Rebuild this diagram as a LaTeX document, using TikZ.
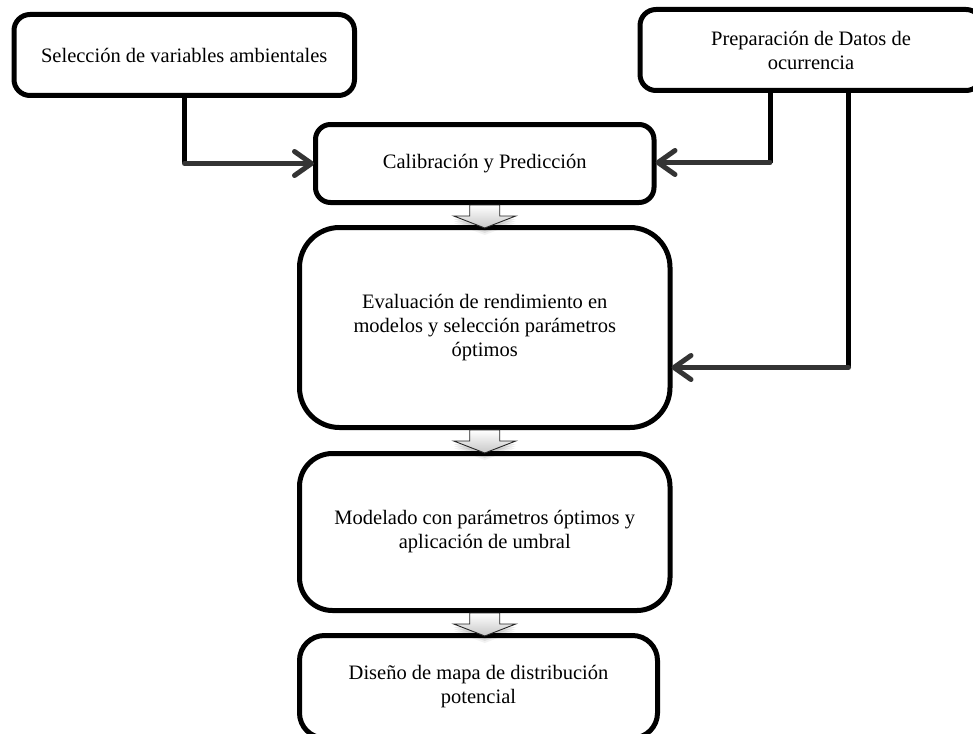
\documentclass[tikz,border=0pt]{standalone}
\usepackage{fontspec}
\setmainfont{Liberation Serif}
\usetikzlibrary{arrows.meta}
\definecolor{linegray}{RGB}{52,52,52}
\begin{document}
\begin{tikzpicture}[x=1pt,y=-1pt,
  box/.style={draw=black, line width=5pt, fill=white, rounded corners=#1,
    align=center, inner sep=0pt, font=\fontsize{20.5}{24}\selectfont},
  box/.default=16pt,
  vline/.style={draw=black, line width=5pt},
  hline/.style={draw=linegray, line width=5pt, line cap=round,
    -{Straight Barb[length=17pt,width=24pt,round]}},
  blockarrow/.pic={
    % soft shadow under the arrow
    \foreach \s/\o in {7/0.05,5/0.07,3/0.09}{
      \fill[black, opacity=\o, shift={(0,\s)}]
        (-15,0) -- (15,0) -- (15,11) -- (31,11) -- (0,23) -- (-31,11) -- (-15,11) -- cycle;
    }
    \path[draw=black!85, line width=0.9pt, top color=white, bottom color=black!22]
      (-15,0) -- (15,0) -- (15,11) -- (31,11) -- (0,23) -- (-31,11) -- (-15,11) -- cycle;
  }
]
\useasboundingbox (0,0) rectangle (973,733);
\clip (0,0) rectangle (973,733);

% process boxes
\node[box, minimum width=340.5pt, minimum height=81pt] (vars) at (184.25,55)
  {Selección de variables ambientales};
\node[box, minimum width=342pt, minimum height=81pt] (datos) at (811,50)
  {Preparación de Datos de\\ocurrencia};
\node[box=15pt, minimum width=338.5pt, minimum height=78pt] (calib) at (484.75,163.5)
  {Calibración y Predicción};
\node[box=40pt, minimum width=370.5pt, minimum height=200pt] (eval) at (484.75,327.5)
  {Evaluación de rendimiento en\\modelos y selección parámetros\\óptimos};
\node[box=33pt, minimum width=370.5pt, minimum height=157pt] (model) at (484.75,532)
  {Modelado con parámetros óptimos y\\aplicación de umbral};
\node[box=25pt, minimum width=358pt, minimum height=102.5pt] (mapa) at (478.5,686.75)
  {Diseño de mapa de distribución\\potencial};

% block arrows between consecutive steps
\pic (a1) at (calib.south) {blockarrow};
\pic (a2) at (eval.south) {blockarrow};
\pic (a3) at (model.south) {blockarrow};

% elbow connectors
\coordinate (k1) at (184.5,163.5);
\coordinate (k2) at (770,162.5);
\coordinate (k3) at (848.5,367.5);

\draw[vline] (vars.south -| k1) -- (k1);
\draw[hline, shorten >=-1pt] (k1) -- (calib.west |- k1);

\draw[vline] (datos.south -| k2) -- (k2);
\draw[hline, shorten >=-1pt] (k2) -- (calib.east |- k2);

\draw[vline] (datos.south -| k3) -- (k3);
\draw[hline, shorten >=-1pt] (k3) -- (eval.east |- k3);
\end{tikzpicture}
\end{document}
